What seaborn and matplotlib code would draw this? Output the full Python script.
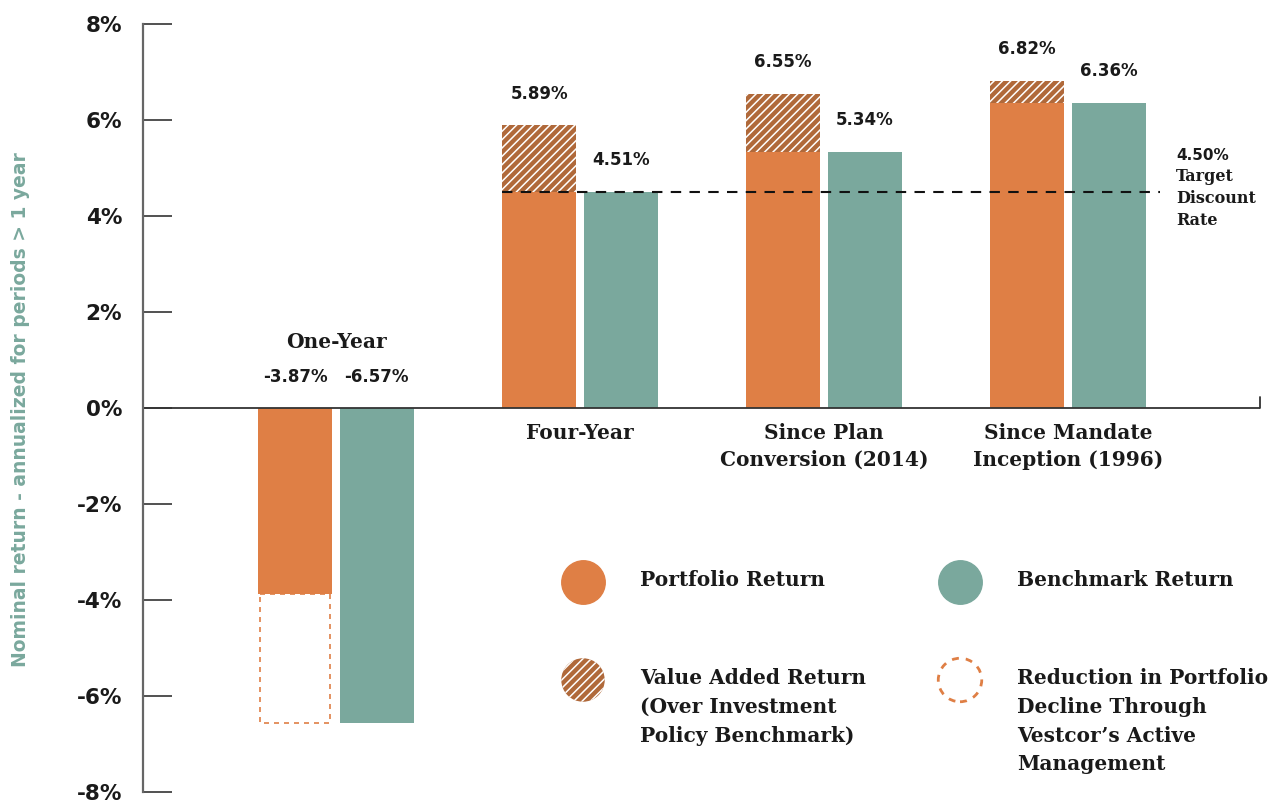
import pandas as pd
import seaborn as sns
import matplotlib.pyplot as plt

# chart values (percent)
periods = ["One-Year", "Four-Year", "Since Plan\nConversion (2014)", "Since Mandate\nInception (1996)"]
portfolio = [-3.87, 5.89, 6.55, 6.82]
benchmark = [-6.57, 4.51, 5.34, 6.36]
target_rate = 4.50
yticks = [-8, -6, -4, -2, 0, 2, 4, 6, 8]

ORANGE = "#DF7F45"
TEAL = "#7AA89D"
BROWN = "#B0693A"
INK = "#1a1a1a"
SERIF = "DejaVu Serif"
SANS = "DejaVu Sans"

df = pd.DataFrame({
    "period": periods * 2,
    "series": ["Portfolio"] * 4 + ["Benchmark"] * 4,
    "value": portfolio + benchmark,
})

sns.set_style("white")
plt.rcParams["hatch.color"] = "white"
plt.rcParams["hatch.linewidth"] = 1.1

W, H = 1283, 802
def px(x, y):
    return x / W, 1 - y / H

fig = plt.figure(figsize=(W / 100, H / 100), dpi=100)
ax = fig.add_axes([143 / W, 10 / H, (1260 - 143) / W, 768 / H])

sns.barplot(data=df, x="period", y="value", hue="series", palette=[ORANGE, TEAL],
            width=0.67, gap=0.1, errorbar=None, legend=False, saturation=1,
            linewidth=0, ax=ax)

port_bars = ax.containers[0]
bench_bars = ax.containers[1]

# value added / reduced decline segments
for i, (p, b) in enumerate(zip(portfolio, benchmark)):
    bar = port_bars[i]
    x0, w = bar.get_x(), bar.get_width()
    if p > b and b >= 0:
        ax.bar(x0, p - b, bottom=b, width=w, align="edge", color=BROWN,
               edgecolor="white", linewidth=0, hatch="////", zorder=3)
    elif p > b:
        ax.bar(x0 + 0.006, b - p, bottom=p, width=w - 0.012, align="edge", fill=False,
               edgecolor=ORANGE, linestyle=(0, (3, 3)), linewidth=1.2, zorder=3)

# value labels
for i in range(len(periods)):
    for bars, vals in ((port_bars, portfolio), (bench_bars, benchmark)):
        bar = bars[i]
        cx = bar.get_x() + bar.get_width() / 2
        ax.annotate(f"{vals[i]:.2f}%", (cx, max(vals[i], 0)), xytext=(0, 22.5),
                    textcoords="offset points", ha="center", va="center",
                    fontsize=12, fontweight="bold", family=SANS, color=INK)

# category labels
for i, name in enumerate(periods):
    if portfolio[i] < 0:
        ax.annotate(name, (i, 0), xytext=(0, 47.5), textcoords="offset points",
                    ha="center", va="center", fontsize=14.5, fontweight="bold",
                    family=SERIF, color=INK)
    else:
        ax.annotate(name, (i, 0), xytext=(0, -10.5), textcoords="offset points",
                    ha="center", va="top", fontsize=14.5, fontweight="bold",
                    family=SERIF, color=INK, linespacing=1.45)

# target discount rate
ax.hlines(target_rate, port_bars[1].get_x(), 3.377, colors="#111",
          linestyles=(0, (5, 4)), linewidth=1.5, zorder=4)
ax.annotate(f"{target_rate:.2f}%", (3.443, target_rate), xytext=(0, 26),
            textcoords="offset points", ha="left", va="center", fontsize=11,
            fontweight="bold", family=SANS, color=INK)
ax.annotate("Target\nDiscount\nRate", (3.443, target_rate), xytext=(0, 17.5),
            textcoords="offset points", ha="left", va="top", fontsize=11.5,
            fontweight="bold", family=SERIF, color=INK, linespacing=1.38)

# axes styling
ax.axhline(0, color="#333", linewidth=1.3, zorder=2)
ax.plot([1, 1], [0.5, 0.514], transform=ax.transAxes, color="#333",
        linewidth=1.3, clip_on=False)
ax.set_xlim(-0.791, 3.787)
ax.set_ylim(-8, 8)
ax.set_yticks(yticks)
ax.set_yticklabels([f"{v}%" for v in yticks], fontsize=15.5, fontweight="bold",
                   family=SANS, color=INK)
ax.set_xticks([])
ax.set_xlabel("")
ax.set_ylabel("")
ax.tick_params(axis="y", direction="in", length=21, width=1.1, color="#222", pad=15, left=True)
for side in ("top", "right", "bottom"):
    ax.spines[side].set_visible(False)
ax.spines["left"].set_color("#666")
ax.spines["left"].set_linewidth(1.6)

fig.text(*px(21, 410), "Nominal return - annualized for periods > 1 year", rotation=90,
         ha="center", va="center", color=TEAL, fontsize=13.5, fontweight="bold", family=SANS)

# legend
legend_items = [
    ((583, 582), "Portfolio Return", dict(color=ORANGE)),
    ((960, 582), "Benchmark Return", dict(color=TEAL)),
    ((583, 680), "Value Added Return\n(Over Investment\nPolicy Benchmark)",
     dict(color=BROWN, edgecolors="white", linewidths=0, hatch="////")),
    ((960, 680), "Reduction in Portfolio\nDecline Through\nVestcor\u2019s Active\nManagement",
     dict(facecolors="none", edgecolors=ORANGE, linewidths=2, linestyle=(0, (2.5, 2.5)))),
]
for (x, y), label, style in legend_items:
    fx, fy = px(x, y)
    ax.scatter([fx], [fy], s=980, transform=fig.transFigure, clip_on=False, zorder=5, **style)
    tx, ty = px(x + 57, y - 12)
    fig.text(tx, ty, label, ha="left", va="top", fontsize=14.5, fontweight="bold",
             family=SERIF, color=INK, linespacing=1.55)

fig.savefig("out.png", dpi=100)
